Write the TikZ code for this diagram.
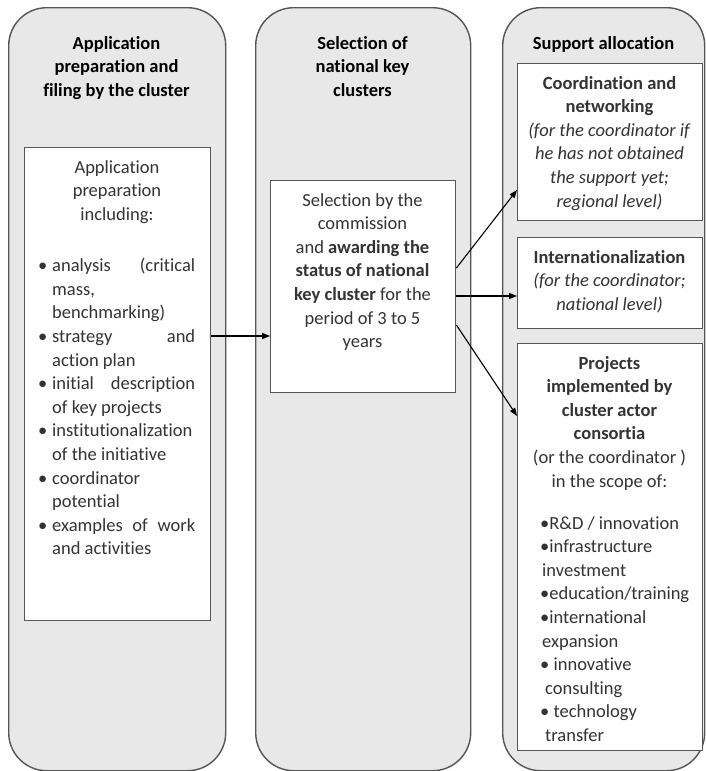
\documentclass[tikz,border=0pt]{standalone}
\usepackage{fontspec}
\setmainfont{Carlito}[Ligatures=NoCommon]
\usetikzlibrary{arrows.meta}
\definecolor{colfill}{HTML}{E8E8E8}
\definecolor{edge}{HTML}{555555}
\definecolor{txt}{HTML}{333333}
\newcommand{\jline}[1]{\makebox[143pt][s]{#1}}
\newcommand{\bitem}[1]{\makebox[14pt][l]{\textbullet}#1}
\newcommand{\cont}[1]{\hspace*{14pt}#1}
\begin{document}
\begin{tikzpicture}[x=1pt,y=-1pt,
  column/.style={draw=edge,line width=1.4pt,fill=colfill,rounded corners=38pt,anchor=north west,inner sep=0},
  inbox/.style={draw=edge,line width=1.4pt,fill=white,anchor=north west,inner sep=0},
  txtnode/.style={inner sep=0,text=txt,font=\fontsize{18.5}{23.6}\selectfont},
  arr/.style={line width=1.1pt,-{Triangle[length=8pt,width=6pt]}}]
\useasboundingbox (0,0) rectangle (706,771);

% columns
\node[column,minimum width=217pt,minimum height=763pt] (c1) at (8,7) {};
\node[column,minimum width=215pt,minimum height=763pt] (c2) at (255,7) {};
\node[column,minimum width=202pt,minimum height=763pt] (c3) at (502,7) {};

% titles
\node[txtnode,anchor=north,align=center,font=\fontsize{18.5}{23.6}\selectfont\bfseries,text=black] (t1) at (116.5,36) {Application\\preparation and\\filing by the cluster};
\node[txtnode,anchor=north,align=center,font=\fontsize{18.5}{23.6}\selectfont\bfseries,text=black] (t2) at (362.5,36) {Selection of\\national key\\clusters};
\node[txtnode,anchor=north,align=center,font=\fontsize{18.5}{23.6}\selectfont\bfseries,text=black] (t3) at (603.5,36) {Support allocation};

% inner boxes
\node[inbox,minimum width=186pt,minimum height=473pt] (lbox) at (24,147) {};
\node[inbox,minimum width=185pt,minimum height=212pt] (mbox) at (270,180) {};
\node[inbox,minimum width=185pt,minimum height=157pt] (b1) at (517,63) {};
\node[inbox,minimum width=185pt,minimum height=91pt] (b2) at (517,237) {};
\node[inbox,minimum width=185pt,minimum height=407pt] (b3) at (517,343) {};

% left box text
\node[txtnode,anchor=north,align=center] (lhead) at (117,160) {Application\\preparation\\including:};
\node[txtnode,anchor=north west,align=left] (llist) at (38,258) {%
\bitem{\jline{analysis (critical}}\\
\cont{mass,}\\
\cont{benchmarking)}\\
\bitem{\jline{strategy and}}\\
\cont{action plan}\\
\bitem{\jline{initial description}}\\
\cont{of key projects}\\
\bitem{institutionalization}\\
\cont{of the initiative}\\
\bitem{coordinator}\\
\cont{potential}\\
\bitem{\jline{examples of work}}\\
\cont{and activities}};

% middle box text
\node[txtnode,anchor=north,align=center] (mtext) at (362.5,193) {Selection by the\\commission\\and \textbf{awarding the}\\\textbf{status of national}\\\textbf{key cluster} for the\\period of 3 to 5\\years};

% right box texts
\node[txtnode,anchor=north,align=center] (r1) at (609.5,76) {\textbf{Coordination and}\\\textbf{networking}\\\textit{(for the coordinator if}\\\textit{he has not obtained}\\\textit{the support yet;}\\\textit{regional level)}};
\node[txtnode,anchor=north,align=center] (r2) at (609.5,250) {\textbf{Internationalization}\\\textit{(for the coordinator;}\\\textit{national level)}};
\node[txtnode,anchor=north,align=center] (r3) at (609.5,356) {\textbf{Projects}\\\textbf{implemented by}\\\textbf{cluster actor}\\\textbf{consortia}\\(or the coordinator )\\in the scope of:};
\node[txtnode,anchor=north west,align=left] (r3list) at (540,516) {%
\textbullet R\&D / innovation\\
\textbullet infrastructure\\
\hspace*{2pt}investment\\
\textbullet education/training\\
\textbullet international\\
\hspace*{2pt}expansion\\
\textbullet\ innovative\\
\hspace*{5pt}consulting\\
\textbullet\ technology\\
\hspace*{5pt}transfer};

% connectors
\draw[arr] ([yshift=-189pt]lbox.north east) -- ([yshift=-156pt]mbox.north west);
\draw[arr] ([yshift=-88pt]mbox.north east) -- ([yshift=-127pt]b1.north west);
\draw[arr] ([yshift=-116pt]mbox.north east) -- ([yshift=-59pt]b2.north west);
\draw[arr] ([yshift=-145pt]mbox.north east) -- ([yshift=-73pt]b3.north west);
\end{tikzpicture}
\end{document}
